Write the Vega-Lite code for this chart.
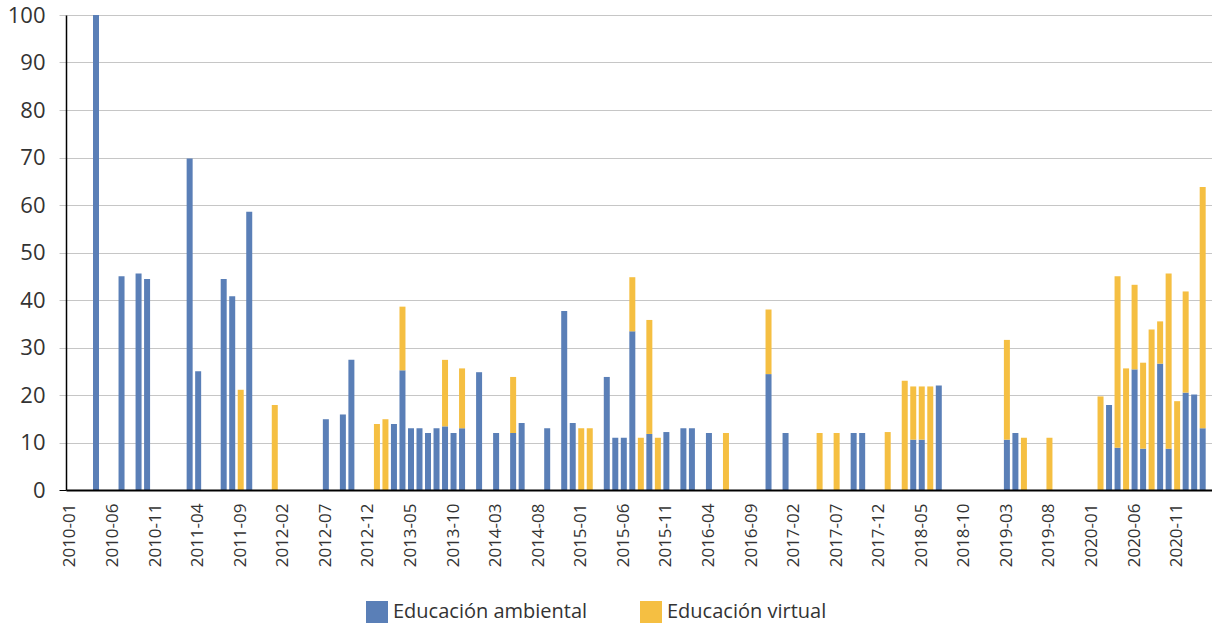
{
  "$schema": "https://vega.github.io/schema/vega-lite/v6.json",
  "width": 1146,
  "height": 475,
  "autosize": {"type": "none"},
  "padding": {"left": 66, "top": 15, "right": 0, "bottom": 134},
  "background": "white",
  "config": {"view": {"stroke": null}, "font": "Open Sans"},
  "data": {
    "values": [
      {"mes": "2010-04", "tipo": "Educación ambiental", "valor": 100},
      {"mes": "2010-07", "tipo": "Educación ambiental", "valor": 45.0},
      {"mes": "2010-09", "tipo": "Educación ambiental", "valor": 45.6},
      {"mes": "2010-10", "tipo": "Educación ambiental", "valor": 44.4},
      {"mes": "2011-03", "tipo": "Educación ambiental", "valor": 69.8},
      {"mes": "2011-04", "tipo": "Educación ambiental", "valor": 25.0},
      {"mes": "2011-07", "tipo": "Educación ambiental", "valor": 44.4},
      {"mes": "2011-08", "tipo": "Educación ambiental", "valor": 40.8},
      {"mes": "2011-09", "tipo": "Educación virtual", "valor": 21.1},
      {"mes": "2011-10", "tipo": "Educación ambiental", "valor": 58.6},
      {"mes": "2012-01", "tipo": "Educación virtual", "valor": 17.9},
      {"mes": "2012-07", "tipo": "Educación ambiental", "valor": 14.9},
      {"mes": "2012-09", "tipo": "Educación ambiental", "valor": 15.9},
      {"mes": "2012-10", "tipo": "Educación ambiental", "valor": 27.4},
      {"mes": "2013-01", "tipo": "Educación virtual", "valor": 13.9},
      {"mes": "2013-02", "tipo": "Educación virtual", "valor": 14.9},
      {"mes": "2013-03", "tipo": "Educación ambiental", "valor": 13.9},
      {"mes": "2013-04", "tipo": "Educación ambiental", "valor": 25.2},
      {"mes": "2013-04", "tipo": "Educación virtual", "valor": 13.4},
      {"mes": "2013-05", "tipo": "Educación ambiental", "valor": 13.0},
      {"mes": "2013-06", "tipo": "Educación ambiental", "valor": 13.0},
      {"mes": "2013-07", "tipo": "Educación ambiental", "valor": 12.0},
      {"mes": "2013-08", "tipo": "Educación ambiental", "valor": 13.0},
      {"mes": "2013-09", "tipo": "Educación ambiental", "valor": 13.4},
      {"mes": "2013-09", "tipo": "Educación virtual", "valor": 14.0},
      {"mes": "2013-10", "tipo": "Educación ambiental", "valor": 12.0},
      {"mes": "2013-11", "tipo": "Educación ambiental", "valor": 13.0},
      {"mes": "2013-11", "tipo": "Educación virtual", "valor": 12.6},
      {"mes": "2014-01", "tipo": "Educación ambiental", "valor": 24.8},
      {"mes": "2014-03", "tipo": "Educación ambiental", "valor": 12.0},
      {"mes": "2014-05", "tipo": "Educación ambiental", "valor": 12.0},
      {"mes": "2014-05", "tipo": "Educación virtual", "valor": 11.8},
      {"mes": "2014-06", "tipo": "Educación ambiental", "valor": 14.1},
      {"mes": "2014-09", "tipo": "Educación ambiental", "valor": 13.0},
      {"mes": "2014-11", "tipo": "Educación ambiental", "valor": 37.7},
      {"mes": "2014-12", "tipo": "Educación ambiental", "valor": 14.1},
      {"mes": "2015-01", "tipo": "Educación virtual", "valor": 13.0},
      {"mes": "2015-02", "tipo": "Educación virtual", "valor": 13.0},
      {"mes": "2015-04", "tipo": "Educación ambiental", "valor": 23.8},
      {"mes": "2015-05", "tipo": "Educación ambiental", "valor": 11.0},
      {"mes": "2015-06", "tipo": "Educación ambiental", "valor": 11.0},
      {"mes": "2015-07", "tipo": "Educación ambiental", "valor": 33.4},
      {"mes": "2015-07", "tipo": "Educación virtual", "valor": 11.4},
      {"mes": "2015-08", "tipo": "Educación virtual", "valor": 11.0},
      {"mes": "2015-09", "tipo": "Educación ambiental", "valor": 11.8},
      {"mes": "2015-09", "tipo": "Educación virtual", "valor": 24.0},
      {"mes": "2015-10", "tipo": "Educación virtual", "valor": 11.0},
      {"mes": "2015-11", "tipo": "Educación ambiental", "valor": 12.2},
      {"mes": "2016-01", "tipo": "Educación ambiental", "valor": 13.0},
      {"mes": "2016-02", "tipo": "Educación ambiental", "valor": 13.0},
      {"mes": "2016-04", "tipo": "Educación ambiental", "valor": 12.0},
      {"mes": "2016-06", "tipo": "Educación virtual", "valor": 12.0},
      {"mes": "2016-11", "tipo": "Educación ambiental", "valor": 24.4},
      {"mes": "2016-11", "tipo": "Educación virtual", "valor": 13.6},
      {"mes": "2017-01", "tipo": "Educación ambiental", "valor": 12.0},
      {"mes": "2017-05", "tipo": "Educación virtual", "valor": 12.0},
      {"mes": "2017-07", "tipo": "Educación virtual", "valor": 12.0},
      {"mes": "2017-09", "tipo": "Educación ambiental", "valor": 12.0},
      {"mes": "2017-10", "tipo": "Educación ambiental", "valor": 12.0},
      {"mes": "2018-01", "tipo": "Educación virtual", "valor": 12.2},
      {"mes": "2018-03", "tipo": "Educación virtual", "valor": 23.0},
      {"mes": "2018-04", "tipo": "Educación ambiental", "valor": 10.6},
      {"mes": "2018-04", "tipo": "Educación virtual", "valor": 11.2},
      {"mes": "2018-05", "tipo": "Educación ambiental", "valor": 10.6},
      {"mes": "2018-05", "tipo": "Educación virtual", "valor": 11.2},
      {"mes": "2018-06", "tipo": "Educación virtual", "valor": 21.8},
      {"mes": "2018-07", "tipo": "Educación ambiental", "valor": 22.0},
      {"mes": "2019-03", "tipo": "Educación ambiental", "valor": 10.6},
      {"mes": "2019-03", "tipo": "Educación virtual", "valor": 21.0},
      {"mes": "2019-04", "tipo": "Educación ambiental", "valor": 12.0},
      {"mes": "2019-05", "tipo": "Educación virtual", "valor": 11.0},
      {"mes": "2019-08", "tipo": "Educación virtual", "valor": 11.0},
      {"mes": "2020-02", "tipo": "Educación virtual", "valor": 19.7},
      {"mes": "2020-03", "tipo": "Educación ambiental", "valor": 17.9},
      {"mes": "2020-04", "tipo": "Educación ambiental", "valor": 8.9},
      {"mes": "2020-04", "tipo": "Educación virtual", "valor": 36.1},
      {"mes": "2020-05", "tipo": "Educación virtual", "valor": 25.6},
      {"mes": "2020-06", "tipo": "Educación ambiental", "valor": 25.4},
      {"mes": "2020-06", "tipo": "Educación virtual", "valor": 17.8},
      {"mes": "2020-07", "tipo": "Educación ambiental", "valor": 8.7},
      {"mes": "2020-07", "tipo": "Educación virtual", "valor": 18.1},
      {"mes": "2020-08", "tipo": "Educación virtual", "valor": 33.8},
      {"mes": "2020-09", "tipo": "Educación ambiental", "valor": 26.6},
      {"mes": "2020-09", "tipo": "Educación virtual", "valor": 8.9},
      {"mes": "2020-10", "tipo": "Educación ambiental", "valor": 8.7},
      {"mes": "2020-10", "tipo": "Educación virtual", "valor": 36.9},
      {"mes": "2020-11", "tipo": "Educación virtual", "valor": 18.7},
      {"mes": "2020-12", "tipo": "Educación ambiental", "valor": 20.5},
      {"mes": "2020-12", "tipo": "Educación virtual", "valor": 21.3},
      {"mes": "2021-01", "tipo": "Educación ambiental", "valor": 20.1},
      {"mes": "2021-02", "tipo": "Educación ambiental", "valor": 13.0},
      {"mes": "2021-02", "tipo": "Educación virtual", "valor": 50.8}
    ]
  },
  "mark": {"type": "bar"},
  "encoding": {
    "x": {
      "field": "mes",
      "type": "ordinal",
      "scale": {
        "domain": ["2010-01","2010-02","2010-03","2010-04","2010-05","2010-06","2010-07","2010-08","2010-09","2010-10","2010-11","2010-12",
                   "2011-01","2011-02","2011-03","2011-04","2011-05","2011-06","2011-07","2011-08","2011-09","2011-10","2011-11","2011-12",
                   "2012-01","2012-02","2012-03","2012-04","2012-05","2012-06","2012-07","2012-08","2012-09","2012-10","2012-11","2012-12",
                   "2013-01","2013-02","2013-03","2013-04","2013-05","2013-06","2013-07","2013-08","2013-09","2013-10","2013-11","2013-12",
                   "2014-01","2014-02","2014-03","2014-04","2014-05","2014-06","2014-07","2014-08","2014-09","2014-10","2014-11","2014-12",
                   "2015-01","2015-02","2015-03","2015-04","2015-05","2015-06","2015-07","2015-08","2015-09","2015-10","2015-11","2015-12",
                   "2016-01","2016-02","2016-03","2016-04","2016-05","2016-06","2016-07","2016-08","2016-09","2016-10","2016-11","2016-12",
                   "2017-01","2017-02","2017-03","2017-04","2017-05","2017-06","2017-07","2017-08","2017-09","2017-10","2017-11","2017-12",
                   "2018-01","2018-02","2018-03","2018-04","2018-05","2018-06","2018-07","2018-08","2018-09","2018-10","2018-11","2018-12",
                   "2019-01","2019-02","2019-03","2019-04","2019-05","2019-06","2019-07","2019-08","2019-09","2019-10","2019-11","2019-12",
                   "2020-01","2020-02","2020-03","2020-04","2020-05","2020-06","2020-07","2020-08","2020-09","2020-10","2020-11","2020-12",
                   "2021-01","2021-02"],
        "paddingInner": 0.295,
        "paddingOuter": 0.4565,
        "align": 0.188
      },
      "axis": {
        "title": null,
        "values": ["2010-01","2010-06","2010-11","2011-04","2011-09","2012-02","2012-07","2012-12","2013-05","2013-10","2014-03","2014-08","2015-01","2015-06","2015-11","2016-04","2016-09","2017-02","2017-07","2017-12","2018-05","2018-10","2019-03","2019-08","2020-01","2020-06","2020-11"],
        "labelAngle": 270,
        "ticks": false,
        "labelPadding": 13,
        "labelFontSize": 17,
        "labelFont": "Open Sans",
        "labelColor": "#333333",
        "domainColor": "#000000",
        "domainWidth": 2,
        "grid": false,
        "zindex": 1
      }
    },
    "y": {
      "field": "valor",
      "type": "quantitative",
      "stack": "zero",
      "scale": {"domain": [0, 100], "nice": false},
      "axis": {
        "title": null,
        "values": [0, 10, 20, 30, 40, 50, 60, 70, 80, 90, 100],
        "grid": true,
        "gridColor": "#c6c6c6",
        "gridWidth": 1,
        "tickSize": 7,
        "tickWidth": 1,
        "tickColor": {"condition": {"test": "datum.value === 0", "value": "#000000"}, "value": "#c6c6c6"},
        "domainColor": "#000000",
        "domainWidth": 1.5,
        "labelFontSize": 22,
        "labelFont": "Open Sans",
        "labelPadding": 14,
        "labelColor": "#333333"
      }
    },
    "color": {
      "field": "tipo",
      "type": "nominal",
      "scale": {"domain": ["Educación ambiental", "Educación virtual"], "range": ["#5a7fb7", "#f5bf42"]},
      "legend": {
        "orient": "none",
        "legendX": 300,
        "legendY": 586,
        "direction": "horizontal",
        "title": null,
        "padding": 0,
        "symbolType": "square",
        "symbolSize": 484,
        "symbolStrokeWidth": 0,
        "symbolOpacity": 1,
        "labelFontSize": 20,
        "labelFont": "Open Sans",
        "labelOffset": 5,
        "columnPadding": 52,
        "labelColor": "#333333",
        "labelLimit": 400
      }
    },
    "order": {"field": "tipo", "sort": "ascending"}
  }
}
